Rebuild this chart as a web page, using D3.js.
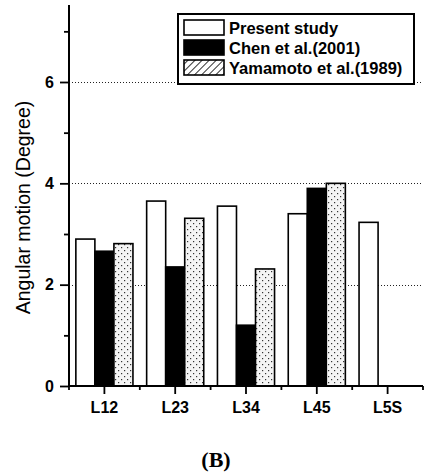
<!DOCTYPE html>
<html>
<head>
<meta charset="utf-8">
<script src="https://cdn.jsdelivr.net/npm/d3@7"></script>
<style>
  html, body { margin: 0; padding: 0; background: #fff; }
  svg { display: block; }
  text { font-family: "Liberation Sans", Arial, sans-serif; fill: #000; }
</style>
</head>
<body>
<svg id="chart" width="425" height="475"></svg>
<script>
// Segment levels on the x axis
const categories = ["L12", "L23", "L34", "L45", "L5S"];
// Series names, in legend order
const seriesNames = ["Present study", "Chen et al.(2001)", "Yamamoto et al.(1989)"];
// Angular motion in degrees per segment (null = no value reported)
const presentStudy = [2.90, 3.65, 3.55, 3.40, 3.23];
const chen2001     = [2.66, 2.35, 1.20, 3.90, null];
const yamamoto1989 = [2.81, 3.31, 2.31, 4.00, null];
// Axis ticks
const yMajorTicks = [0, 2, 4, 6];
const yMinorTicks = [1, 3, 5, 7];
const gridTicks = [2, 4, 6];

const seriesValues = [presentStudy, chen2001, yamamoto1989];

const svg = d3.select("#chart");

// Patterns: dotted fill for bars, hatched fill for the legend key
const defs = svg.append("defs");
const dots = defs.append("pattern")
  .attr("id", "dots").attr("patternUnits", "userSpaceOnUse")
  .attr("width", 6).attr("height", 6);
dots.append("rect").attr("width", 6).attr("height", 6).attr("fill", "#f4f4f4");
dots.append("rect").attr("x", 1).attr("y", 1).attr("width", 1.2).attr("height", 1.2).attr("fill", "#333");
dots.append("rect").attr("x", 4).attr("y", 4).attr("width", 1.2).attr("height", 1.2).attr("fill", "#333");

const hatch = defs.append("pattern")
  .attr("id", "hatch").attr("patternUnits", "userSpaceOnUse")
  .attr("width", 5).attr("height", 5)
  .attr("patternTransform", "rotate(45)");
hatch.append("rect").attr("width", 5).attr("height", 5).attr("fill", "#fff");
hatch.append("line").attr("x1", 0).attr("y1", 0).attr("x2", 0).attr("y2", 5)
  .attr("stroke", "#000").attr("stroke-width", 1.6);

const barFills = ["#fff", "#000", "url(#dots)"];
const keyFills = ["#fff", "#000", "url(#hatch)"];

// Plot area
const plotLeft = 69, plotRight = 423, plotTop = 6, plotBottom = 386;

const y = d3.scaleLinear().domain([0, 7.5]).range([plotBottom, plotTop]);
const x0 = d3.scaleBand().domain(categories).range([plotLeft, plotRight]).paddingInner(0).paddingOuter(0);
const x1 = d3.scaleBand().domain(d3.range(seriesNames.length))
  .range([0, x0.bandwidth()]).paddingInner(0).paddingOuter(0.36);

// Dotted horizontal grid lines
svg.append("g").selectAll("line").data(gridTicks).join("line")
  .attr("x1", plotLeft).attr("x2", plotRight)
  .attr("y1", d => Math.round(y(d)) + 0.5).attr("y2", d => Math.round(y(d)) + 0.5)
  .attr("stroke", "#222").attr("stroke-width", 1)
  .attr("stroke-dasharray", "1,2");

// Bars
const rows = [];
categories.forEach((c, i) => {
  seriesValues.forEach((vals, s) => {
    if (vals[i] != null) rows.push({ cat: c, s, v: vals[i] });
  });
});
svg.append("g").selectAll("rect").data(rows).join("rect")
  .attr("x", d => x0(d.cat) + x1(d.s))
  .attr("y", d => y(d.v))
  .attr("width", x1.bandwidth())
  .attr("height", d => y(0) - y(d.v))
  .attr("fill", d => barFills[d.s])
  .attr("stroke", "#000").attr("stroke-width", 1.6);

// Y axis: major ticks labelled, minor ticks unlabelled
const yAxis = svg.append("g").attr("transform", `translate(${plotLeft},0)`)
  .call(d3.axisLeft(y).tickValues(yMajorTicks).tickSize(9).tickPadding(6).tickFormat(d3.format("d")));
const yMinor = yAxis.append("g").call(d3.axisLeft(y).tickValues(yMinorTicks).tickSize(5).tickFormat(""));
yMinor.select(".domain").remove();
yAxis.select(".domain").attr("d", `M0,${plotBottom}V${plotTop - 1}`)
  .attr("stroke", "#000").attr("stroke-width", 2);
yAxis.selectAll(".tick line").attr("stroke", "#000").attr("stroke-width", 1.8);
yAxis.selectAll("text").style("font-size", "16px").style("font-weight", "bold")
  .style("font-family", "'Liberation Sans', Arial, sans-serif");

// X axis: category ticks labelled, boundary ticks between groups
const xAxis = svg.append("g").attr("transform", `translate(0,${plotBottom})`)
  .call(d3.axisBottom(x0).tickSize(8).tickPadding(8));
const boundaries = d3.range(categories.length + 1).map(i => plotLeft + i * x0.step());
xAxis.append("g").selectAll("line").data(boundaries).join("line")
  .attr("x1", d => d).attr("x2", d => d).attr("y1", 0).attr("y2", 4)
  .attr("stroke", "#000").attr("stroke-width", 1.8);
xAxis.select(".domain").attr("d", `M${plotLeft},0H${plotRight}`).attr("stroke", "#000").attr("stroke-width", 2);
xAxis.selectAll(".tick line").attr("stroke", "#000").attr("stroke-width", 1.8);
xAxis.selectAll("text").style("font-size", "16px").style("font-weight", "bold")
  .style("font-family", "'Liberation Sans', Arial, sans-serif");

// Y axis title
svg.append("text")
  .attr("transform", `translate(30,${(95 + 320) / 2}) rotate(-90)`)
  .attr("text-anchor", "middle")
  .style("font-size", "19.5px")
  .text("Angular motion (Degree)");

// Legend
const legend = svg.append("g");
legend.append("rect").attr("x", 178).attr("y", 14).attr("width", 236).attr("height", 70)
  .attr("fill", "#fff").attr("stroke", "#000").attr("stroke-width", 2);
const rowY = [20, 40, 60];
seriesNames.forEach((name, i) => {
  legend.append("rect").attr("x", 184).attr("y", rowY[i]).attr("width", 40).attr("height", 15)
    .attr("fill", keyFills[i]).attr("stroke", "#000").attr("stroke-width", 1.6);
  legend.append("text").attr("x", 229).attr("y", rowY[i] + 13.5)
    .style("font-size", "16.5px").style("font-weight", "bold")
    .text(name);
});

// Panel caption
svg.append("text")
  .attr("x", 216).attr("y", 467)
  .attr("text-anchor", "middle")
  .style("font-family", "'Liberation Serif', 'Times New Roman', serif")
  .style("font-size", "22px").style("font-weight", "bold")
  .text("(B)");
</script>
</body>
</html>
